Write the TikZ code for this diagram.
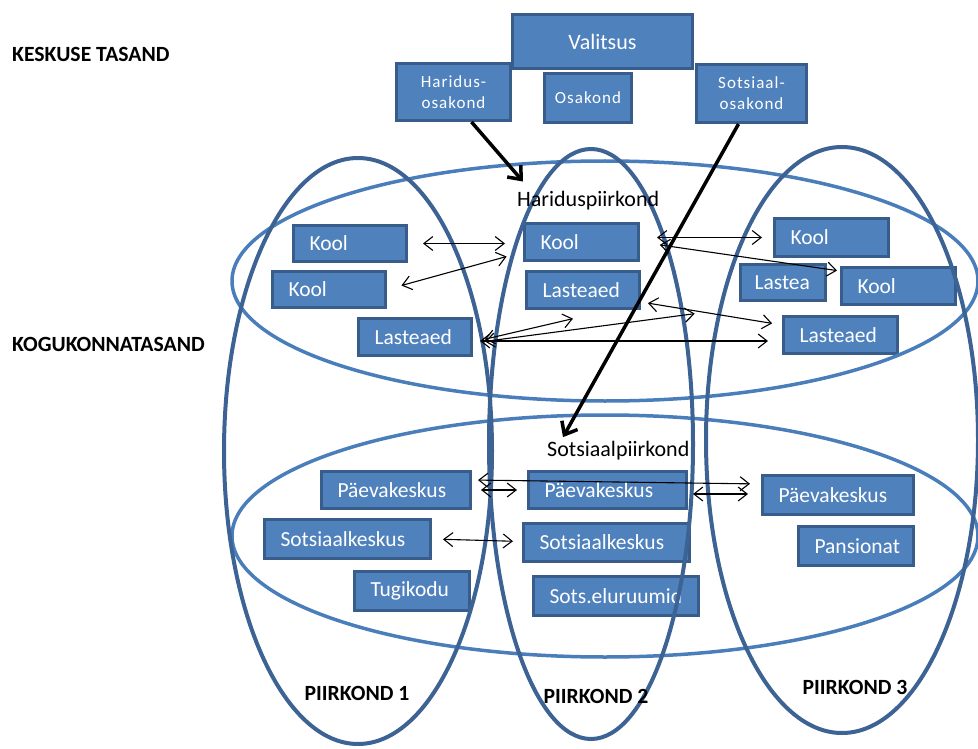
\documentclass[tikz,border=0pt]{standalone}
\usepackage{fontspec}
\setmainfont{Carlito}
\usetikzlibrary{arrows.meta}
\definecolor{boxfill}{HTML}{4F81BD}
\definecolor{boxline}{HTML}{385D8A}
\definecolor{ringdark}{HTML}{3C6394}
\definecolor{ringlight}{HTML}{4A7EBB}
\begin{document}
\begin{tikzpicture}[x=1pt,y=-1pt,
  >={Straight Barb[length=9pt,width=14pt]},
  box/.style={draw=boxline,fill=boxfill,line width=3pt,text=white,inner xsep=16pt,inner ysep=0pt,
    align=left,font=\fontsize{21.5}{25}\selectfont},
  topbox/.style={draw=boxline,fill=boxfill,line width=3pt,text=white,inner sep=0pt,align=center,
    font=\fontsize{17}{21}\selectfont\addfontfeatures{LetterSpace=6}},
  ring/.style={draw=ringdark,line width=4pt},
  band/.style={draw=ringlight,line width=3.5pt},
  link/.style={<->,line width=1.1pt},
  lead/.style={-{Straight Barb[length=11pt,width=18pt]},line width=3.5pt},
  level/.style={anchor=base west,inner sep=0pt,font=\fontsize{21.7}{25}\selectfont\bfseries},
  area/.style={anchor=base west,inner sep=0pt,font=\fontsize{22}{26}\selectfont},
  part/.style={anchor=base,font=\fontsize{21.7}{25}\selectfont\bfseries}]
\useasboundingbox (0,0) rectangle (978,749);

\node[topbox,minimum width=114,minimum height=57] (hb) at (453.5,92) {Haridus-\\osakond};
\node[topbox,minimum width=110,minimum height=58] (sb) at (751.5,93.5) {Sotsiaal-\\osakond};
\node[topbox,minimum width=87,minimum height=49] (ok) at (588,98) {Osakond};
\node[topbox,minimum width=180,minimum height=54,font=\fontsize{22}{26}\selectfont] (val) at (602.5,41.5) {Valitsus};

\node[box,text width=81,minimum height=36] (k1) at (350,243.5) {Kool};
\node[box,text width=81,minimum height=36] (kb1) at (329,289.5) {Kool};
\node[box,text width=81,minimum height=37] (la1) at (415,337) {Lasteaed};
\node[box,text width=82,minimum height=37] (k2) at (581.5,242) {Kool};
\node[box,text width=81,minimum height=37] (la2) at (583,290) {Lasteaed};
\node[box,text width=82,minimum height=38] (ka3) at (831.5,237.5) {Kool};
\node[box,text width=57,minimum height=36,inner xsep=14pt] (lt3) at (783,282.5) {Lastea};
\node[box,text width=82,minimum height=37] (kc3) at (898.5,286) {Kool};
\node[box,text width=82,minimum height=37] (la3) at (840.5,335) {Lasteaed};

\node[box,text width=117,minimum height=37] (pk1) at (396,490) {Päevakeskus};
\node[box,text width=134,minimum height=39] (sk1) at (347.5,539) {Sotsiaalkeskus};
\node[box,text width=83,minimum height=39] (tk1) at (412,591) {Tugikodu};
\node[box,text width=126,minimum height=37] (pk2) at (607.5,490) {Päevakeskus};
\node[box,text width=134,minimum height=38] (sk2) at (606.5,542.5) {Sotsiaalkeskus};
\node[box,text width=133,minimum height=39] (se2) at (616,596) {Sots.eluruumid};
\node[box,text width=119,minimum height=39] (pk3) at (838,495) {Päevakeskus};
\node[box,text width=83,minimum height=39] (pn3) at (856,546) {Pansionat};

\draw[band] (605,281) ellipse [x radius=373,y radius=120];
\draw[band] (605,536) ellipse [x radius=373,y radius=121];
\draw[ring] (358,451) ellipse [x radius=134,y radius=293];
\draw[ring] (591,444) ellipse [x radius=102,y radius=295];
\draw[ring] (842,440) ellipse [x radius=136,y radius=293];

\node[level] (keskus) at (12,62) {KESKUSE TASAND};
\node[level] (kogukond) at (12,351) {KOGUKONNATASAND};
\node[area] (hp) at (517,207) {Hariduspiirkond};
\node[area] (sp) at (547,456) {Sotsiaalpiirkond};
\node[part] (p1) at (357,700) {PIIRKOND 1};
\node[part] (p2) at (596,703) {PIIRKOND 2};
\node[part] (p3) at (855,694) {PIIRKOND 3};

\draw[link,shorten <=15pt,shorten >=18pt] (k1.east) -- (k1.east -| k2.west);
\draw[link,shorten <=15pt,shorten >=17pt] (kb1.east) -- ([yshift=-10pt]k2.west);
\draw[link,shorten <=17pt,shorten >=11pt] (k2.east |- ka3.west) -- (ka3.west);
\draw[link,shorten <=20pt,shorten >=3pt] (k2.east) -- ([yshift=15pt]kc3.west);
\draw[link,shorten <=12pt,shorten >=38pt] ([yshift=-5pt]la1.east) -- ([xshift=27pt]la2.south);
\draw[link,shorten <=12pt,shorten >=89pt] ([yshift=-6pt]la1.east) -- (lt3.south);
\draw[link,shorten <=7pt,shorten >=10pt] ([yshift=-12pt]la2.east) -- ([yshift=10pt]la3.west);
\draw[link,shorten <=7pt,shorten >=14pt] ([yshift=-4pt]la1.east) -- ([yshift=-6pt]la3.west);
\draw[link,shorten <=6pt,shorten >=11pt] ([yshift=10pt]pk1.east) -- ([yshift=11pt]pk3.west);
\draw[link,shorten <=9pt,shorten >=10pt] (pk1.east) -- (pk2.west);
\draw[link,shorten <=5pt,shorten >=13pt] ([yshift=-4pt]pk2.east) -- ([yshift=1pt]pk3.west);
\draw[link,shorten <=11pt,shorten >=9pt] (sk1.east) -- ([yshift=1pt]sk2.west);

\draw[lead] ([xshift=18pt]hb.south) -- ([xshift=6pt,yshift=10pt]hp.north west);
\draw[lead] ([xshift=-13pt]sb.south) -- ([xshift=16pt,yshift=13pt]sp.west);
\end{tikzpicture}
\end{document}
